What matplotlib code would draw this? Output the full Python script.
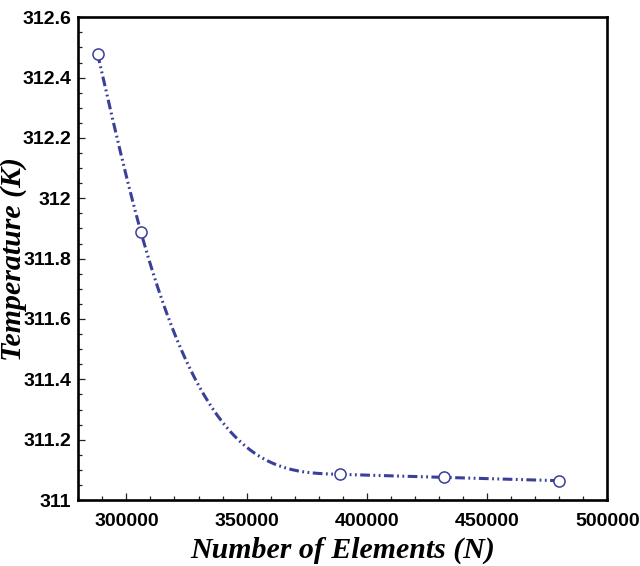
import numpy as np
import matplotlib
matplotlib.use("Agg")
import matplotlib.pyplot as plt
from matplotlib.ticker import MultipleLocator

# grid independence data
elements = [288000, 306000, 389000, 432000, 480000]
temperature = [312.48, 311.89, 311.085, 311.075, 311.064]

x_ticks = [300000, 350000, 400000, 450000, 500000]
y_ticks = [311, 311.2, 311.4, 311.6, 311.8, 312, 312.2, 312.4, 312.6]
y_tick_labels = ["311", "311.2", "311.4", "311.6", "311.8", "312", "312.2", "312.4", "312.6"]

line_color = "#3a3f98"


def natural_spline(xs, ys, xnew):
    # plain natural cubic spline, like the smooth curve of the original plot
    xs = np.asarray(xs, dtype=float)
    ys = np.asarray(ys, dtype=float)
    n = len(xs)
    h = np.diff(xs)
    s = np.diff(ys) / h
    A = np.zeros((n, n))
    b = np.zeros(n)
    A[0, 0] = 1
    A[-1, -1] = 1
    for i in range(1, n - 1):
        A[i, i - 1] = h[i - 1]
        A[i, i] = 2 * (h[i - 1] + h[i])
        A[i, i + 1] = h[i]
        b[i] = 6 * (s[i] - s[i - 1])
    M = np.linalg.solve(A, b)
    out = np.zeros_like(xnew, dtype=float)
    for k, xv in enumerate(xnew):
        i = min(np.searchsorted(xs, xv) - 1, n - 2)
        i = max(i, 0)
        t1 = xs[i + 1] - xv
        t0 = xv - xs[i]
        out[k] = (M[i] * t1**3 + M[i + 1] * t0**3) / (6 * h[i]) \
            + (ys[i] / h[i] - M[i] * h[i] / 6) * t1 \
            + (ys[i + 1] / h[i] - M[i + 1] * h[i] / 6) * t0
    return out


plt.rcParams["lines.scale_dashes"] = False

fig = plt.figure(figsize=(6.4, 5.66), dpi=100)
ax = fig.add_axes([0.1223, 0.1166, 0.8266, 0.8528])

xs = np.linspace(elements[0], elements[-1], 400)
ax.plot(xs, natural_spline(elements, temperature, xs), color=line_color,
        linewidth=2.2, linestyle=(0, (7, 2.5, 1.3, 2.5, 1.3, 2.5)))
ax.plot(elements, temperature, linestyle="none", marker="o", markersize=8,
        markerfacecolor="white", markeredgecolor=line_color, markeredgewidth=1.1)

ax.set_xlim(280000, 500000)
ax.set_ylim(311, 312.6)
ax.set_xticks(x_ticks)
ax.set_yticks(y_ticks)
ax.set_yticklabels(y_tick_labels)
ax.xaxis.set_minor_locator(MultipleLocator(10000))
ax.yaxis.set_minor_locator(MultipleLocator(0.05))

ax.tick_params(which="both", direction="in", top=False, right=False, width=0.9, color="#222222")
ax.tick_params(which="major", length=5)
ax.tick_params(which="minor", length=3)
ax.tick_params(axis="x", pad=9)
ax.tick_params(axis="y", pad=5)
for lab in ax.get_xticklabels() + ax.get_yticklabels():
    lab.set_fontfamily("Liberation Sans")
    lab.set_fontweight("bold")
    lab.set_fontsize(14)

for sp in ax.spines.values():
    sp.set_linewidth(1.9)
    sp.set_color("black")

lab_font = dict(family="Liberation Serif", weight="bold", style="italic", size=21.5)
ax.set_xlabel("Number of Elements (N)", **lab_font)
ax.set_ylabel("Temperature (K)", **lab_font)
ax.xaxis.set_label_coords(0.5, -0.1036)
ax.yaxis.set_label_coords(-0.1215, 0.5)
ax.xaxis.label.set_va("center")
ax.yaxis.label.set_va("center")

fig.savefig("out.png", dpi=100)
